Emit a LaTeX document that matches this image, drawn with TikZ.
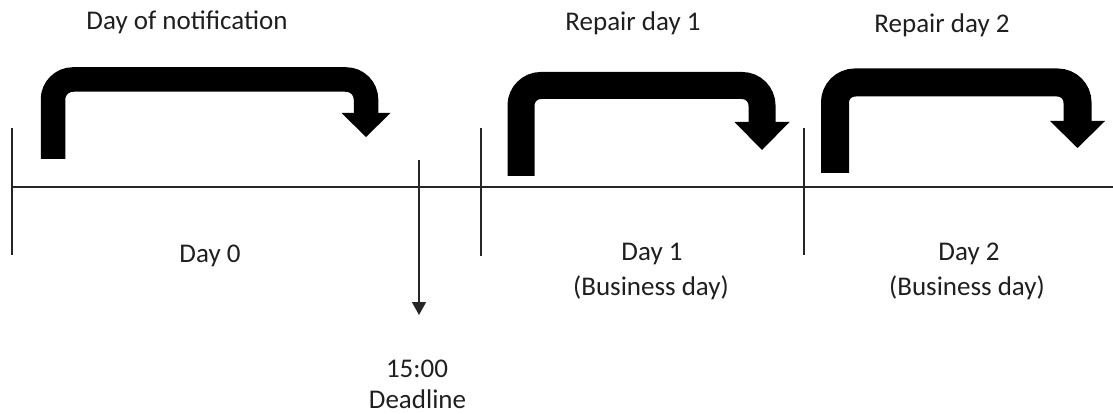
\documentclass[tikz,border=0pt]{standalone}
\usepackage{fontspec}
\setmainfont{Carlito}
\usetikzlibrary{arrows.meta}
\tikzset{
  lbl/.style={anchor=base, inner sep=0pt, font=\fontsize{27}{32}\selectfont, text=black!88},
  tline/.style={line width=1.4pt, black!85},
  shaft/.style={line width=#1, rounded corners=20pt, line cap=butt, line join=miter},
  headfill/.style={fill=black},
}
\begin{document}
\begin{tikzpicture}[x=1pt,y=-1pt]
\useasboundingbox (0,0) rectangle (1113,414);
% timeline
\coordinate (tl0) at (12,187);
\coordinate (tl1) at (1113,187);
\draw[tline] (tl0) -- (tl1);
\coordinate (t0a) at (12,128); \coordinate (t0b) at (12,255);
\coordinate (t1a) at (481,128); \coordinate (t1b) at (481,256);
\coordinate (t2a) at (804,128); \coordinate (t2b) at (804,255);
\draw[tline] (t0a) -- (t0b);
\draw[tline] (t1a) -- (t1b);
\draw[tline] (t2a) -- (t2b);
% deadline arrow
\coordinate (dla) at (419,160);
\coordinate (dlb) at (419,315);
\draw[tline, -{Triangle[length=13pt,width=14pt]}] (dla) -- (dlb);
% bent arrows
\draw[shaft=24.5pt] (53,159) -- (53,79.5) -- (366,79.5) -- (366,114);
\fill[headfill] (341.5,113) -- (390.5,113) -- (366,137) -- cycle;
\draw[shaft=27pt] (521,176) -- (521,85.5) -- (762,85.5) -- (762,123);
\fill[headfill] (734.5,122) -- (789.5,122) -- (762,150) -- cycle;
\draw[shaft=28pt] (835,173) -- (835,82.5) -- (1077.5,82.5) -- (1077.5,122);
\fill[headfill] (1050,121) -- (1105,121) -- (1077.5,148) -- cycle;
% labels
\node[lbl] (notif) at (187,30) {Day of notification};
\node[lbl] (rep1) at (633,31) {Repair day 1};
\node[lbl] (rep2) at (942,33) {Repair day 2};
\node[lbl] (day0) at (210,262) {Day 0};
\node[lbl] (day1) at (652,260) {Day 1};
\node[lbl] (bus1) at (651,295) {(Business day)};
\node[lbl] (day2) at (969,260) {Day 2};
\node[lbl] (bus2) at (967,295) {(Business day)};
\node[lbl] (time) at (417,377) {15:00};
\node[lbl] (dead) at (417.5,408) {Deadline};
\end{tikzpicture}
\end{document}
